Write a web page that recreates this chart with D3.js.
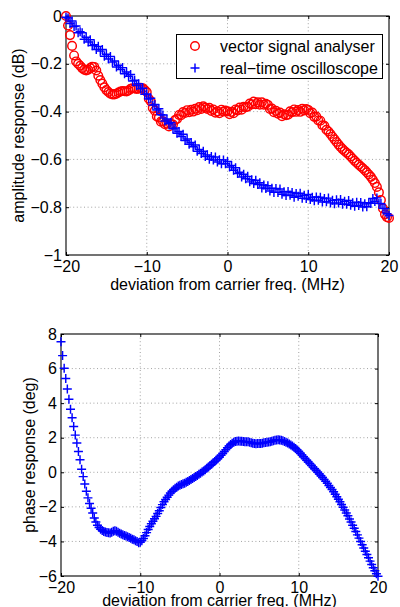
<!DOCTYPE html>
<html><head><meta charset="utf-8">
<script src="https://cdn.jsdelivr.net/npm/d3@7"></script>
<style>
body{margin:0;background:#fff}
svg{display:block}
text{font-family:"Liberation Sans",Arial,Helvetica,sans-serif;fill:#000}
</style>
</head><body><div id="chart"></div>
<script>
// ---------- data ----------
const xTicks = [-20, -10, 0, 10, 20];
const ampTicks = [0, -0.2, -0.4, -0.6, -0.8, -1];
const phaseTicks = [-6, -4, -2, 0, 2, 4, 6, 8];
const seriesNames = ["vector signal analyser", "real\u2212time oscilloscope"];
const xLabel = "deviation from carrier freq. (MHz)";
const ampLabel = "amplitude response (dB)";
const phaseLabel = "phase response (deg)";

// amplitude: frequency grid -20 .. 20 MHz, step 0.25
const ampFreqStart = -20, ampFreqStep = 0.25;
const vsaAmp = [
0,-0.04,-0.08,-0.125,-0.165,-0.19,-0.2,-0.208,-0.218,-0.225,
-0.228,-0.225,-0.218,-0.212,-0.213,-0.228,-0.25,-0.268,-0.283,-0.298,
-0.31,-0.318,-0.325,-0.328,-0.328,-0.325,-0.32,-0.316,-0.314,-0.315,
-0.316,-0.312,-0.305,-0.302,-0.303,-0.305,-0.304,-0.3,-0.302,-0.31,
-0.318,-0.346,-0.357,-0.385,-0.396,-0.42,-0.425,-0.442,-0.44,-0.453,
-0.451,-0.462,-0.453,-0.454,-0.435,-0.431,-0.414,-0.415,-0.402,-0.406,
-0.394,-0.403,-0.392,-0.4,-0.388,-0.394,-0.381,-0.389,-0.378,-0.384,
-0.389,-0.384,-0.397,-0.391,-0.405,-0.399,-0.407,-0.392,-0.4,-0.396,
-0.399,-0.411,-0.401,-0.407,-0.391,-0.395,-0.383,-0.392,-0.38,-0.382,
-0.38,-0.366,-0.37,-0.358,-0.369,-0.361,-0.371,-0.361,-0.371,-0.367,
-0.372,-0.389,-0.387,-0.403,-0.397,-0.409,-0.404,-0.419,-0.411,-0.415,
-0.413,-0.399,-0.403,-0.391,-0.401,-0.393,-0.401,-0.388,-0.395,-0.389,
-0.393,-0.407,-0.404,-0.422,-0.421,-0.437,-0.438,-0.457,-0.459,-0.476,
-0.483,-0.494,-0.505,-0.516,-0.527,-0.538,-0.548,-0.557,-0.565,-0.572,
-0.579,-0.588,-0.597,-0.606,-0.614,-0.622,-0.63,-0.637,-0.645,-0.654,
-0.663,-0.673,-0.685,-0.699,-0.715,-0.738,-0.77,-0.805,-0.83,-0.842,
-0.845];
const rtoAmp = [
-0.005,-0.008,-0.031,-0.021,-0.044,-0.042,-0.07,-0.066,-0.07,-0.097,
-0.089,-0.109,-0.099,-0.124,-0.12,-0.14,-0.127,-0.147,-0.14,-0.168,
-0.16,-0.18,-0.169,-0.193,-0.188,-0.213,-0.206,-0.224,-0.216,-0.242,
-0.234,-0.252,-0.245,-0.272,-0.269,-0.291,-0.283,-0.305,-0.302,-0.328,
-0.326,-0.347,-0.344,-0.373,-0.37,-0.393,-0.388,-0.413,-0.414,-0.439,
-0.431,-0.451,-0.446,-0.472,-0.469,-0.491,-0.483,-0.504,-0.495,-0.521,
-0.515,-0.537,-0.529,-0.547,-0.54,-0.566,-0.558,-0.575,-0.566,-0.588,
-0.581,-0.599,-0.588,-0.603,-0.59,-0.611,-0.601,-0.618,-0.602,-0.618,
-0.609,-0.632,-0.625,-0.645,-0.635,-0.659,-0.654,-0.674,-0.662,-0.681,
-0.671,-0.694,-0.685,-0.701,-0.687,-0.705,-0.698,-0.72,-0.707,-0.722,
-0.71,-0.732,-0.721,-0.738,-0.722,-0.738,-0.724,-0.746,-0.735,-0.751,
-0.734,-0.75,-0.738,-0.758,-0.743,-0.754,-0.742,-0.763,-0.75,-0.764,
-0.747,-0.768,-0.758,-0.773,-0.757,-0.771,-0.758,-0.778,-0.764,-0.777,
-0.762,-0.782,-0.771,-0.786,-0.769,-0.782,-0.768,-0.788,-0.775,-0.788,
-0.772,-0.792,-0.781,-0.796,-0.779,-0.793,-0.78,-0.799,-0.786,-0.798,
-0.781,-0.784,-0.764,-0.776,-0.761,-0.784,-0.785,-0.805,-0.806,-0.827,
-0.835];

// phase: frequency grid -20 .. 20 MHz, step 0.2
const phaseFreqStart = -20, phaseFreqStep = 0.2;
const rtoPhase = [
7.55,6.75,6.02,5.42,4.82,4.22,3.65,3.15,2.65,2.15,
1.70,1.20,0.72,0.18,-0.25,-0.68,-1.10,-1.48,-1.80,-2.08,
-2.36,-2.64,-2.88,-3.06,-3.20,-3.30,-3.37,-3.42,-3.45,-3.48,
-3.50,-3.51,-3.47,-3.41,-3.38,-3.41,-3.47,-3.52,-3.57,-3.61,
-3.65,-3.69,-3.73,-3.77,-3.82,-3.87,-3.91,-3.96,-4.01,-4.07,
-4.05,-3.96,-3.83,-3.67,-3.49,-3.31,-3.14,-2.98,-2.83,-2.69,
-2.55,-2.39,-2.22,-2.04,-1.87,-1.71,-1.57,-1.44,-1.32,-1.20,
-1.10,-1.01,-0.93,-0.86,-0.80,-0.75,-0.71,-0.67,-0.63,-0.58,
-0.53,-0.48,-0.42,-0.36,-0.30,-0.24,-0.18,-0.12,-0.06,0.01,
0.08,0.15,0.23,0.31,0.39,0.47,0.55,0.63,0.71,0.79,
0.88,0.98,1.09,1.20,1.31,1.42,1.52,1.61,1.68,1.74,
1.78,1.80,1.81,1.80,1.79,1.78,1.77,1.77,1.76,1.74,
1.71,1.68,1.66,1.65,1.66,1.67,1.66,1.68,1.71,1.73,
1.74,1.75,1.77,1.80,1.83,1.85,1.87,1.88,1.87,1.85,
1.82,1.78,1.74,1.69,1.64,1.58,1.52,1.45,1.37,1.29,
1.20,1.10,1.00,0.90,0.80,0.70,0.60,0.50,0.40,0.30,
0.20,0.10,0.00,-0.10,-0.20,-0.30,-0.41,-0.52,-0.64,-0.76,
-0.88,-1.00,-1.13,-1.27,-1.41,-1.56,-1.71,-1.86,-2.02,-2.18,
-2.35,-2.52,-2.70,-2.88,-3.06,-3.24,-3.43,-3.62,-3.81,-4.00,
-4.19,-4.38,-4.57,-4.76,-4.95,-5.14,-5.33,-5.52,-5.70,-5.87,
-6.02];

// ---------- drawing ----------
const W = 400, H = 607;
const RED = "#ff0000", BLUE = "#0000ff";
const fmt = d => (d < 0 ? "\u2212" : "") + Math.abs(d);
const plusPath = "M-4.5,0H4.5M0,-4.5V4.5";

const svg = d3.select("#chart").append("svg")
  .attr("width", W).attr("height", H)
  .attr("viewBox", `0 0 ${W} ${H}`);
svg.append("rect").attr("width", W).attr("height", H).attr("fill", "#fff");

function panel(cfg) {
  const x = d3.scaleLinear().domain([-20, 20]).range([cfg.left, cfg.right]);
  const y = d3.scaleLinear().domain(cfg.yDomain).range([cfg.bottom, cfg.top]);
  const g = svg.append("g");

  // grid
  const grid = g.append("g").attr("stroke", "#8c8c8c").attr("stroke-width", 0.8)
    .attr("stroke-dasharray", "1,2.6").attr("fill", "none");
  grid.selectAll("line.gx").data(xTicks.slice(1, -1)).join("line")
    .attr("x1", d => x(d)).attr("x2", d => x(d))
    .attr("y1", cfg.top).attr("y2", cfg.bottom);
  grid.selectAll("line.gy").data(cfg.yTicks.filter(t => t !== cfg.yDomain[0] && t !== cfg.yDomain[1])).join("line")
    .attr("y1", d => y(d)).attr("y2", d => y(d))
    .attr("x1", cfg.left).attr("x2", cfg.right);

  // axes (ticks inward on all four sides)
  const ax = (gen, tr) => {
    const a = g.append("g").attr("transform", tr).call(gen);
    a.select(".domain").remove();
    a.selectAll("line").attr("stroke", "#000");
    a.selectAll("text").attr("font-size", 16).attr("font-family", '"Liberation Sans",Arial,sans-serif');
    return a;
  };
  ax(d3.axisBottom(x).tickValues(xTicks).tickFormat(fmt).tickSizeInner(-3).tickSizeOuter(0).tickPadding(6),
     `translate(0,${cfg.bottom})`);
  ax(d3.axisTop(x).tickValues(xTicks).tickFormat("").tickSizeInner(-3).tickSizeOuter(0),
     `translate(0,${cfg.top})`);
  ax(d3.axisLeft(y).tickValues(cfg.yTicks).tickFormat(fmt).tickSizeInner(-3).tickSizeOuter(0).tickPadding(cfg.yPad),
     `translate(${cfg.left},0)`);
  ax(d3.axisRight(y).tickValues(cfg.yTicks).tickFormat("").tickSizeInner(-3).tickSizeOuter(0),
     `translate(${cfg.right},0)`);

  // box
  g.append("rect").attr("x", cfg.left).attr("y", cfg.top)
    .attr("width", cfg.right - cfg.left).attr("height", cfg.bottom - cfg.top)
    .attr("fill", "none").attr("stroke", "#000").attr("stroke-width", 1.1);

  // labels
  g.append("text").attr("x", (cfg.left + cfg.right) / 2).attr("y", cfg.xLabelY)
    .attr("text-anchor", "middle").attr("font-size", 16).text(xLabel);
  g.append("text")
    .attr("transform", `translate(${cfg.yLabelX},${(cfg.top + cfg.bottom) / 2}) rotate(-90)`)
    .attr("text-anchor", "middle").attr("font-size", 16).text(cfg.yLabel);
  return {x, y, g};
}

// ----- top panel: amplitude -----
const ampPanel = panel({left: 66, right: 389, top: 16, bottom: 255,
  yDomain: [-1, 0], yTicks: ampTicks, yPad: 4, xLabelY: 290, yLabelX: 24, yLabel: ampLabel});

ampPanel.g.append("g").selectAll("circle").data(vsaAmp).join("circle")
  .attr("cx", (d, i) => ampPanel.x(ampFreqStart + i * ampFreqStep))
  .attr("cy", d => ampPanel.y(d))
  .attr("r", 4.3).attr("fill", "none").attr("stroke", RED).attr("stroke-width", 1.45);

ampPanel.g.append("g").selectAll("path").data(rtoAmp).join("path")
  .attr("transform", (d, i) => `translate(${ampPanel.x(ampFreqStart + i * ampFreqStep)},${ampPanel.y(d)})`)
  .attr("d", plusPath).attr("fill", "none").attr("stroke", BLUE).attr("stroke-width", 1.45);

// legend
const lg = ampPanel.g.append("g");
lg.append("rect").attr("x", 176.5).attr("y", 34.5).attr("width", 206).attr("height", 44)
  .attr("fill", "#fff").attr("stroke", "#000").attr("stroke-width", 1);
lg.append("circle").attr("cx", 195).attr("cy", 46).attr("r", 4.3)
  .attr("fill", "none").attr("stroke", RED).attr("stroke-width", 1.45);
lg.append("path").attr("transform", "translate(195,68)").attr("d", plusPath)
  .attr("fill", "none").attr("stroke", BLUE).attr("stroke-width", 1.45);
lg.selectAll("text").data(seriesNames).join("text")
  .attr("x", 220).attr("y", (d, i) => 51.5 + i * 22)
  .attr("font-size", 16).text(d => d);

// ----- bottom panel: phase -----
const phasePanel = panel({left: 61, right: 378, top: 334, bottom: 576,
  yDomain: [-6, 8], yTicks: phaseTicks, yPad: 4, xLabelY: 606, yLabelX: 35, yLabel: phaseLabel});

phasePanel.g.append("g").selectAll("path").data(rtoPhase).join("path")
  .attr("transform", (d, i) => `translate(${phasePanel.x(phaseFreqStart + i * phaseFreqStep)},${phasePanel.y(d)})`)
  .attr("d", plusPath).attr("fill", "none").attr("stroke", BLUE).attr("stroke-width", 1.45);
</script>
</body></html>
